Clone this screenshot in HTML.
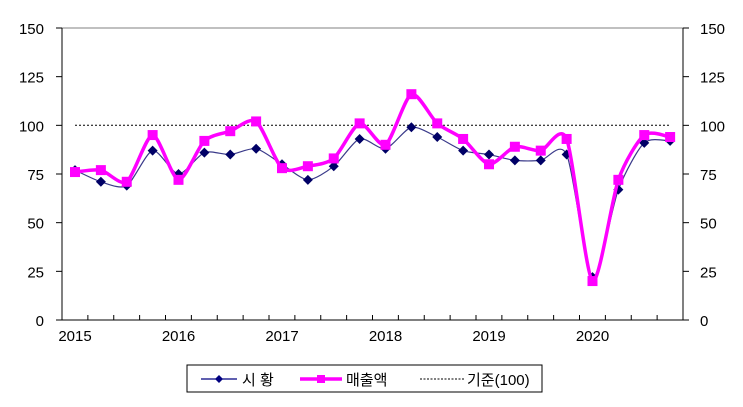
<!DOCTYPE html>
<html><head><meta charset="utf-8"><style>
body{margin:0;background:#fff;width:743px;height:402px;overflow:hidden}
text{font-family:"Liberation Sans","Noto Sans CJK KR",sans-serif;font-size:15px;fill:#000}
</style></head><body>
<svg id="s" width="743" height="402" xmlns="http://www.w3.org/2000/svg">
<rect x="62" y="28" width="621" height="292" fill="none" stroke="#808080" stroke-width="1"/>
<line x1="62" y1="28" x2="62" y2="320" stroke="#000"/>
<line x1="683" y1="28" x2="683" y2="320" stroke="#000"/>
<line x1="62" y1="320" x2="683" y2="320" stroke="#000"/>
<line x1="75" y1="125.3" x2="670" y2="125.3" stroke="#000" stroke-dasharray="2,2" stroke-width="1"/>
<g id="g"></g>
<rect x="187" y="365" width="355" height="27" fill="#fff" stroke="#000"/>
<line x1="201" y1="379" x2="237" y2="379" stroke="#000080" stroke-width="1.2"/>
<path d="M219 375 L223 379 L219 383 L215 379Z" fill="#000080"/>
<text x="242" y="385">시 황</text>
<line x1="300" y1="379" x2="342" y2="379" stroke="#ff00ff" stroke-width="3.5"/>
<rect x="317" y="375" width="8" height="8" fill="#ff00ff"/>
<text x="346" y="385">매출액</text>
<line x1="420" y1="379" x2="464" y2="379" stroke="#000" stroke-dasharray="2,1.5"/>
<text x="467" y="385">기준(100)</text>
</svg>
<script>
var g=document.getElementById('g'),h='';
function Y(v){return 320-v*292/150}
function X(i){return 75+i*25.875}
for(var v=0;v<=150;v+=25){var y=Y(v);
h+='<line x1="56" y1="'+y+'" x2="62" y2="'+y+'" stroke="#000"/><line x1="683" y1="'+y+'" x2="689" y2="'+y+'" stroke="#000"/>';
h+='<text x="44" y="'+(y+6)+'" text-anchor="end">'+v+'</text><text x="700" y="'+(y+6)+'">'+v+'</text>';}
for(var i=0;i<=24;i++){var x=62+i*25.875;h+='<line x1="'+x+'" y1="315" x2="'+x+'" y2="320" stroke="#000"/>';}
for(var k=0;k<6;k++)h+='<text x="'+X(k*4)+'" y="341" text-anchor="middle">'+(2015+k)+'</text>';
var a=[77,71,69,87,75,86,85,88,80,72,79,93,88,99,94,87,85,82,82,85,22,67,91,92];
var b=[76,77,71,95,72,92,97,102,78,79,83,101,90,116,101,93,80,89,87,93,20,72,95,94];
function path(d){var p=d.map(function(v,i){return[X(i),Y(v)]});var s='M'+p[0];
for(var i=0;i<p.length-1;i++){var p0=p[i-1]||p[i],p1=p[i],p2=p[i+1],p3=p[i+2]||p2,t=8;
s+=' C'+(p1[0]+(p2[0]-p0[0])/t)+','+(p1[1]+(p2[1]-p0[1])/t)+' '+(p2[0]-(p3[0]-p1[0])/t)+','+(p2[1]-(p3[1]-p1[1])/t)+' '+p2;}return s}
h+='<path d="'+path(a)+'" fill="none" stroke="#3a3a8a" stroke-width="1.2"/>';
a.forEach(function(v,i){var x=X(i),y=Y(v);h+='<path d="M'+x+' '+(y-5)+'L'+(x+5)+' '+y+'L'+x+' '+(y+5)+'L'+(x-5)+' '+y+'Z" fill="#000066"/>'});
h+='<path d="'+path(b)+'" fill="none" stroke="#ff00ff" stroke-width="3.5"/>';
b.forEach(function(v,i){h+='<rect x="'+(X(i)-5)+'" y="'+(Y(v)-5)+'" width="10" height="10" fill="#ff00ff"/>'});
g.innerHTML=h;
</script>
</body></html>
